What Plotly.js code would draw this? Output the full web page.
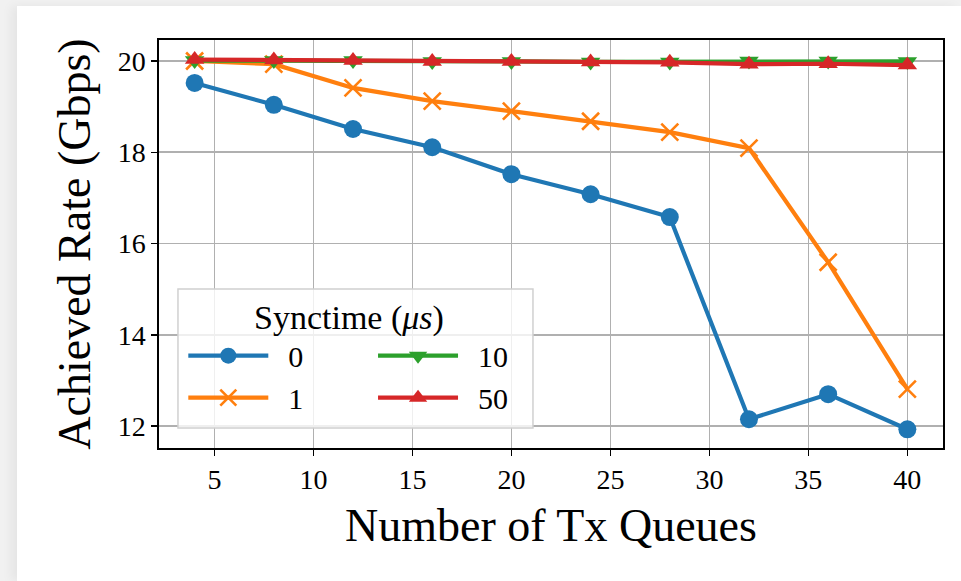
<!DOCTYPE html>
<html>
<head>
<meta charset="utf-8">
<script src="https://cdn.plot.ly/plotly-3.0.1.min.js"></script>
<style>
  html, body { margin: 0; padding: 0; background: #f1f1f1; width: 961px; height: 581px; overflow: hidden; }
  #card { position: absolute; left: 17px; top: 6px; width: 944px; height: 575px; background: #ffffff;
          box-shadow: -6px 0 10px rgba(0,0,0,0.05); }
</style>
</head>
<body>
<div id="card"></div>
<script>
const queues = [4, 8, 12, 16, 20, 24, 28, 32, 36, 40];
const rate0  = [19.52, 19.04, 18.51, 18.11, 17.52, 17.08, 16.58, 12.15, 12.70, 11.93];
const rate1  = [20.00, 19.93, 19.41, 19.12, 18.90, 18.68, 18.44, 18.09, 15.59, 12.81];
const rate10 = [20.01, 20.01, 20.01, 19.99, 19.99, 19.98, 19.98, 20.00, 20.00, 19.99];
const rate50 = [20.03, 20.02, 20.01, 19.99, 19.99, 19.98, 19.97, 19.93, 19.94, 19.91];
const seriesNames = ['0', '1', '10', '50'];
const xTicks = [5, 10, 15, 20, 25, 30, 35, 40];
const yTicks = [12, 14, 16, 18, 20];
const legendTitle = 'Synctime (<i>μs</i>)';
const xTitle = 'Number of Tx Queues';
const yTitle = 'Achieved Rate (Gbps)';

const FONT = 'Liberation Serif';
const legName = s => '<span style="font-family:Liberation Serif;font-size:30px">\u2002' + s + '</span>';

const traces = [
  { x: queues, y: rate0, name: legName(seriesNames[0]), legend: 'legend', mode: 'lines+markers',
    line: { color: '#1f77b4', width: 4.2 }, marker: { symbol: 'circle', size: 18, color: '#1f77b4' } },
  { x: queues, y: rate1, name: legName(seriesNames[1]), legend: 'legend', mode: 'lines+markers',
    line: { color: '#ff7f0e', width: 4.2 }, marker: { symbol: 'x-thin', size: 17, color: '#ff7f0e', line: { color: '#ff7f0e', width: 2.6 } } },
  { x: queues, y: rate10, name: legName(seriesNames[2]), legend: 'legend2', mode: 'lines+markers',
    line: { color: '#2ca02c', width: 4.2 }, marker: { symbol: 'triangle-down', size: 17, color: '#2ca02c' } },
  { x: queues, y: rate50, name: legName(seriesNames[3]), legend: 'legend2', mode: 'lines+markers',
    line: { color: '#d62728', width: 4.2 }, marker: { symbol: 'triangle-up', size: 17, color: '#d62728' } }
];

const layout = {
  width: 944, height: 575,
  margin: { l: 142, r: 18, t: 34, b: 133, pad: 0 },
  paper_bgcolor: '#ffffff', plot_bgcolor: '#ffffff',
  font: { family: FONT, color: '#000', size: 28 },
  showlegend: true,
  legend: {
    bgcolor: 'rgba(0,0,0,0)', borderwidth: 0, orientation: 'v',
    font: { family: FONT, size: 30, color: '#000' },
    yanchor: 'top', xanchor: 'left', itemwidth: 80, x: 0.031, y: 0.29
  },
  legend2: {
    bgcolor: 'rgba(0,0,0,0)', borderwidth: 0, orientation: 'v',
    font: { family: FONT, size: 30, color: '#000' },
    yanchor: 'top', xanchor: 'left', itemwidth: 80, x: 0.273, y: 0.29
  },
  xaxis: {
    range: [2.2, 41.8], tickvals: xTicks, ticktext: xTicks.map(String),
    showgrid: true, gridcolor: '#b0b0b0', gridwidth: 1.6,
    showline: true, linecolor: '#000', linewidth: 1.6, mirror: true,
    ticks: 'outside', ticklen: 6, tickwidth: 1.5, tickcolor: '#000',
    tickfont: { family: FONT, size: 28, color: '#000' },
    zeroline: false,
    title: { text: xTitle, font: { family: FONT, size: 46, color: '#000' }, standoff: 14 }
  },
  yaxis: {
    range: [11.52, 20.46], tickvals: yTicks, ticktext: yTicks.map(String),
    showgrid: true, gridcolor: '#b0b0b0', gridwidth: 1.6,
    showline: true, linecolor: '#000', linewidth: 1.6, mirror: true,
    ticks: 'outside', ticklen: 6, tickwidth: 1.5, tickcolor: '#000',
    tickfont: { family: FONT, size: 28, color: '#000' },
    zeroline: false,
    title: { text: yTitle, font: { family: FONT, size: 46, color: '#000' }, standoff: 12 }
  },
  shapes: [
    { type: 'rect', xref: 'paper', yref: 'paper', x0: 0.0242, x1: 0.477, y0: 0.049, y1: 0.39,
      fillcolor: 'rgba(255,255,255,0.8)', line: { color: '#d0d0d0', width: 1.5 }, layer: 'above' }
  ],
  annotations: [
    { xref: 'paper', yref: 'paper', x: 0.242, y: 0.318, xanchor: 'center', yanchor: 'middle',
      text: legendTitle, showarrow: false, font: { family: FONT, size: 34, color: '#000' } }
  ]
};

Plotly.newPlot('card', traces, layout, { displayModeBar: false, staticPlot: true });
</script>
</body>
</html>
